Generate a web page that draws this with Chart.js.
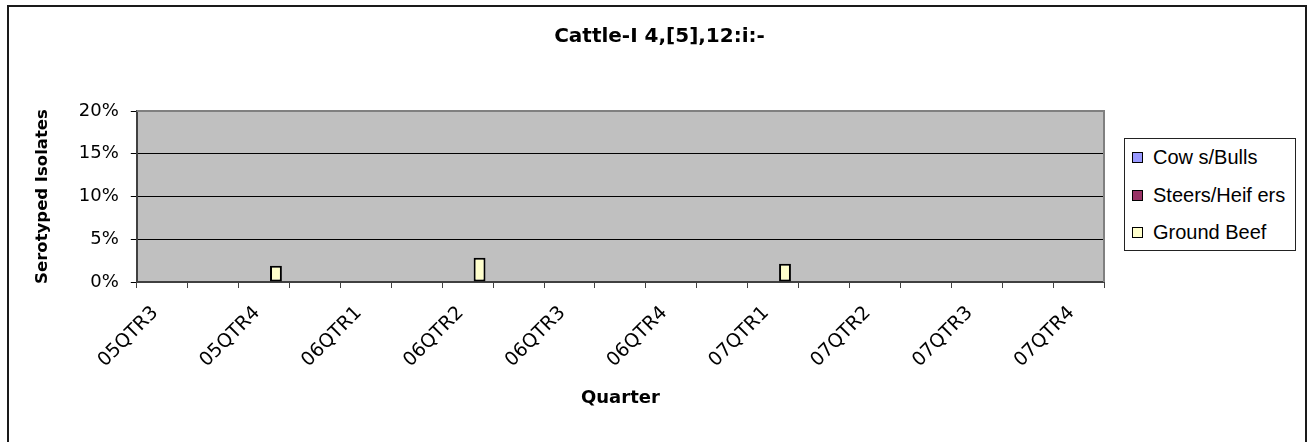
<!DOCTYPE html>
<html><head><meta charset="utf-8">
<script src="https://cdn.jsdelivr.net/npm/chart.js@4.4.1/dist/chart.umd.min.js"></script>
<style>
html,body{margin:0;padding:0;background:#fff;}
#wrap{position:relative;width:1309px;height:442px;overflow:hidden;}
#frame{position:absolute;left:7px;top:5px;width:1296px;height:440px;border:2px solid #1a1a1a;pointer-events:none;}
#title{position:absolute;left:5px;top:23px;width:1309px;height:24px;line-height:24px;text-align:center;font-family:"DejaVu Sans",sans-serif;font-weight:bold;font-size:20px;color:#000;white-space:nowrap;}
#legend{position:absolute;left:1124px;top:138px;width:172px;height:113px;border:1px solid #222;box-sizing:border-box;background:#fff;font-family:"Liberation Sans",Arial,sans-serif;font-size:20px;color:#000;}
.item{position:absolute;left:7px;height:24px;display:flex;align-items:center;white-space:nowrap;}
.sw{width:9px;height:9px;border:1px solid #000;margin-right:10px;flex:none;}
</style></head>
<body>
<div id="wrap">
<canvas id="c" width="1309" height="442"></canvas>
<div id="title"></div>
<div id="legend"></div>
<div id="frame"></div>
</div>
<script>
// ---- data ----
const chartTitle = "Cattle-I 4,[5],12:i:-";
const categories = ["05QTR3","","05QTR4","","06QTR1","","06QTR2","","06QTR3","","06QTR4","","07QTR1","","07QTR2","","07QTR3","","07QTR4"];
const seriesNames = ["Cow s/Bulls","Steers/Heif ers","Ground Beef"];
const cowsBulls     = [0,0,0,0,0,0,0,0,0,0,0,0,0,0,0,0,0,0,0];
const steersHeifers = [0,0,0,0,0,0,0,0,0,0,0,0,0,0,0,0,0,0,0];
const groundBeef    = [0,0,1.9,0,0,0,2.85,0,0,0,0,0,2.15,0,0,0,0,0,0];
const yTicks = [0,5,10,15,20];
const seriesColors = ["#9999FF","#993366","#FFFFCC"];

document.getElementById('title').textContent = chartTitle;

const seriesValues = [cowsBulls, steersHeifers, groundBeef];
const datasets = seriesNames.map((n,i)=>({
  label:n, data:seriesValues[i], backgroundColor:seriesColors[i],
  borderColor:"#000", borderWidth:2, borderSkipped:false,
  categoryPercentage:0.7, barPercentage:1.0
}));

const plotBg = {
  id:'plotBg',
  beforeDraw(chart){
    const {ctx, chartArea:a} = chart;
    ctx.save(); ctx.fillStyle="#C0C0C0";
    ctx.fillRect(a.left, a.top, a.right-a.left, a.bottom-a.top);
    ctx.restore();
  },
  afterDraw(chart){
    const {ctx, chartArea:a} = chart;
    ctx.save(); ctx.strokeStyle="#808080"; ctx.lineWidth=2;
    ctx.beginPath();
    ctx.moveTo(a.left, a.top); ctx.lineTo(a.right, a.top); ctx.lineTo(a.right, a.bottom);
    ctx.stroke(); ctx.restore();
  }
};

new Chart(document.getElementById('c'), {
  type:'bar',
  data:{labels:categories, datasets},
  plugins:[plotBg],
  options:{
    responsive:false, animation:false,
    layout:{padding:{left:33, right:205, top:111, bottom:0}},
    plugins:{ legend:{display:false}, tooltip:{enabled:false}, title:{display:false} },
    scales:{
      x:{
        offset:true,
        grid:{display:true, offset:true, drawOnChartArea:false, drawTicks:true, tickLength:6, color:"#404040", lineWidth:1},
        border:{display:true, color:"#404040", width:2},
        ticks:{autoSkip:false, maxRotation:45, minRotation:45, padding:14, labelOffset:-7, color:"#000",
          font:{family:"DejaVu Sans", size:19}},
        title:{display:true, text:"Quarter", color:"#000",
          font:{family:"DejaVu Sans", size:18, weight:'bold'}, padding:{top:1.3, bottom:33.2}}
      },
      y:{
        min:0, max:20,
        afterBuildTicks(s){ s.ticks = yTicks.map(v=>({value:v})); },
        grid:{color:(c)=> (c.tick && c.tick.value===20) ? 'rgba(0,0,0,0)' : '#000', tickColor:'#000', tickLength:6, lineWidth:1},
        border:{display:true, color:"#404040", width:2},
        ticks:{padding:12, color:"#000", font:{family:"DejaVu Sans", size:18}, callback:(v)=>v+'%'},
        title:{display:true, text:"Serotyped Isolates", color:"#000",
          font:{family:"DejaVu Sans", size:16.5, weight:'bold'}, padding:{top:0, bottom:14}}
      }
    }
  }
});

// HTML legend built from the series
const lg = document.getElementById('legend');
const tops = [6,44,81];
seriesNames.forEach((n,i)=>{
  const it = document.createElement('div'); it.className='item'; it.style.top=tops[i]+'px';
  const sw = document.createElement('span'); sw.className='sw'; sw.style.background=seriesColors[i];
  const tx = document.createElement('span'); tx.textContent=n;
  it.appendChild(sw); it.appendChild(tx); lg.appendChild(it);
});
</script>
</body></html>
